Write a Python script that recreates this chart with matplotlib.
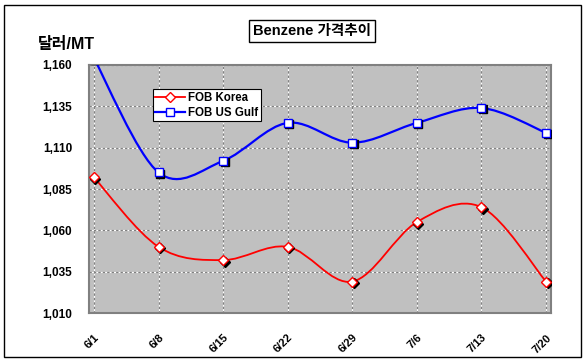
import numpy as np
import matplotlib
matplotlib.use("Agg")
import matplotlib.pyplot as plt
from matplotlib.path import Path
from matplotlib.patches import PathPatch, Rectangle
from matplotlib.lines import Line2D
from matplotlib.transforms import offset_copy

plt.rcParams['font.family'] = ['Liberation Sans', 'Noto Sans CJK KR', 'DejaVu Sans']

# Data
dates = ["6/1", "6/8", "6/15", "6/22", "6/29", "7/6", "7/13", "7/20"]
fob_korea = [1092, 1050, 1042, 1050, 1029, 1065, 1074, 1029]
fob_usgulf = [1164, 1095, 1102, 1125, 1113, 1125, 1134, 1119]
yticks = [1010, 1035, 1060, 1085, 1110, 1135, 1160]


def smooth_path(xs, ys):
    # Excel-style smoothed line: cubic bezier through each point
    pts = np.column_stack([xs, ys]).astype(float)
    n = len(pts)
    verts = [pts[0]]
    codes = [Path.MOVETO]
    for i in range(n - 1):
        p0 = pts[max(i - 1, 0)]
        p1 = pts[i]
        p2 = pts[i + 1]
        p3 = pts[min(i + 2, n - 1)]
        c1 = p1 + (p2 - p0) / 6.0
        c2 = p2 - (p3 - p1) / 6.0
        verts += [c1, c2, p2]
        codes += [Path.CURVE4] * 3
    return Path(verts, codes)


fig = plt.figure(figsize=(5.87, 3.63), dpi=100)
fig.patch.set_facecolor('white')
ax = fig.add_axes([89 / 587, 1 - 313 / 363, 462 / 587, 248 / 363])
ax.set_facecolor('#C0C0C0')

x = np.arange(len(dates))
series = [
    (fob_korea, 'red', 'D', 5.0, 1.3, 'FOB Korea'),
    (fob_usgulf, 'blue', 's', 5.5, 1.6, 'FOB US Gulf'),
]
shadow = offset_copy(ax.transData, fig=fig, x=1.5, y=-1.5, units='dots')
handles = []
for vals, col, mk, ms, lw, lab in series:
    patch = PathPatch(smooth_path(x, vals), facecolor='none', edgecolor=col,
                      lw=lw, zorder=3)
    ax.add_patch(patch)
    ax.plot(x, vals, linestyle='none', marker=mk, ms=ms, color='black',
            transform=shadow, zorder=4)
    ax.plot(x, vals, linestyle='none', marker=mk, ms=ms, mfc='white',
            mec=col, mew=1.0, zorder=5)
    handles.append(Line2D([], [], color=col, lw=lw, marker=mk, ms=ms,
                          mfc='white', mec=col, mew=1.0))

ax.set_xlim(-0.077, 7.077)
ax.set_ylim(1010, 1160)
ax.set_yticks(yticks)
ax.set_yticklabels([f"{v:,}" for v in yticks], fontsize=8.5, fontweight='bold')
ax.set_xticks(x)
ax.set_xticklabels(dates, rotation=45, ha='right', va='top', fontsize=8,
                   fontweight='bold', rotation_mode='anchor')
ax.tick_params(axis='both', length=0)
ax.tick_params(axis='x', pad=14)
ax.tick_params(axis='y', pad=12)
ax.grid(True, color='#808080', linestyle=(0, (2, 2)), gapcolor='white', lw=0.8)
ax.set_axisbelow(True)
for s in ax.spines.values():
    s.set_color('#808080')
    s.set_linewidth(1.5)

leg = ax.legend(handles, ['FOB Korea', 'FOB US Gulf'], loc='upper left',
                bbox_to_anchor=(0.125, 0.925), frameon=True, fancybox=False,
                edgecolor='black', framealpha=1, handlelength=2.6,
                borderpad=0.25, labelspacing=0.2, handletextpad=0.2,
                prop={'weight': 'bold', 'size': 8.3})
leg.get_frame().set_linewidth(0.8)

fig.text(312 / 587, 1 - 31 / 363, "Benzene 가격추이", ha='center', va='center',
         fontsize=10.5, fontweight='bold',
         bbox=dict(boxstyle='square,pad=0.3', facecolor='white',
                   edgecolor='black', lw=1))
fig.text(38 / 587, 1 - 45 / 363, "달러/MT", ha='left', va='center',
         fontsize=11.5, fontweight='bold')

fig.add_artist(Rectangle((4 / 587, 1 - 357 / 363), 577 / 587, 352 / 363,
                         transform=fig.transFigure, facecolor='none',
                         edgecolor='black', lw=1))

fig.savefig("out.png", dpi=100)
